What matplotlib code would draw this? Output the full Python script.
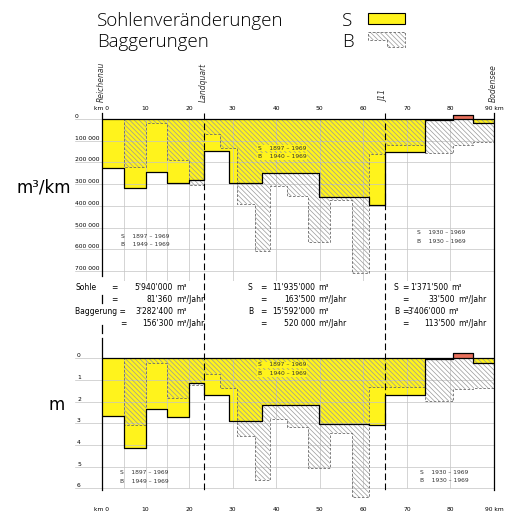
import numpy as np
import matplotlib.pyplot as plt
from matplotlib.patches import Rectangle, Polygon

plt.rcParams['font.family'] = 'DejaVu Sans'
plt.rcParams['hatch.linewidth'] = 0.5

# Sohlenveraenderungen S: reach edges in km, values per reach
s_edges = [0, 5, 10, 15, 20, 23.5, 29.1, 36.8, 49.8, 61.2, 65, 74.2, 80.5, 85.2, 90]
s_vol = [225000, 316000, 244000, 295000, 283000, 149000, 295000, 247000,
         358000, 396000, 150000, 3000, -20000, 20000]          # m3/km
s_depth = [2.64, 4.15, 2.34, 2.69, 1.15, 1.69, 2.87, 2.15,
           3.03, 3.07, 1.69, 0.02, -0.25, 0.23]                 # m

# Baggerungen B
b_edges = [0, 5, 10, 15, 20, 23.5, 27, 31, 35.2, 38.6, 42.5, 47.3, 52.3,
           57.3, 61.2, 65, 74.2, 80.5, 85.2, 90]
b_vol = [0, 221000, 17000, 190000, 303000, 68000, 134000, 390000, 608000,
         311000, 355000, 566000, 372000, 711000, 160000, 121000, 158000,
         121000, 106000]
b_depth = [0, 3.07, 0.23, 1.84, 1.23, 0.72, 1.38, 3.6, 5.6, 2.8, 3.15,
           5.07, 3.43, 6.4, 1.31, 1.31, 1.95, 1.43, 1.35]

km_ticks = [0, 10, 20, 30, 40, 50, 60, 70, 80, 90]
km_labels = ['km 0', '10', '20', '30', '40', '50', '60', '70', '80', '90 km']
vgrid = [5, 10, 15, 20, 30, 40, 50, 60, 70, 80]
vol_ticks = [0, 100000, 200000, 300000, 400000, 500000, 600000, 700000]
vol_labels = ['0', '100 000', '200 000', '300 000', '400 000', '500 000', '600 000', '700 000']
m_ticks = [0, 1, 2, 3, 4, 5, 6]

yellow = '#fff31c'
red = '#e8705c'
hatch_col = '#999999'
grid_col = '#c4c4c4'

W, H = 524, 522
fig = plt.figure(figsize=(W / 100, H / 100), dpi=100)

def kx(km):
    return 102 + 4.356 * km

def axes_px(top, bottom):
    return [102 / W, 1 - bottom / H, 392 / W, (bottom - top) / H]

ax1 = fig.add_axes(axes_px(111.4, 280.7), facecolor='none')
ax2 = fig.add_axes(axes_px(350.7, 501.5), facecolor='none')


def draw_panel(ax, s_vals, b_vals, yticks, grid_bottom):
    xs = np.array(s_edges)
    ys = np.append(s_vals, s_vals[-1])
    ax.fill_between(xs, 0, np.maximum(ys, 0), step='post', color=yellow, lw=0, zorder=2)
    ax.fill_between(xs, 0, np.minimum(ys, 0), step='post', color=red, lw=0, zorder=2)
    xb = np.array(b_edges)
    yb = np.append(b_vals, b_vals[-1])
    ax.fill_between(xb, 0, yb, step='post', facecolor='none', edgecolor=hatch_col,
                    hatch='\\\\\\\\\\\\\\', lw=0, zorder=3)
    ax.step(xb, yb, where='post', color='#6a6a6a', lw=0.6, ls=(0, (3, 2)), zorder=4)
    ax.step(xs, ys, where='post', color='k', lw=0.9, zorder=5)
    ax.plot([0, 90], [0, 0], color='k', lw=0.9, zorder=5)
    for v in yticks:
        ax.plot([-6.2, 90], [v, v], color=grid_col, lw=0.5, zorder=2.5, clip_on=False)
    ax.vlines(vgrid, 0, grid_bottom, color=grid_col, lw=0.5, zorder=2.5)
    ax.set_xlim(0, 90)
    for sp in ax.spines.values():
        sp.set_visible(False)


draw_panel(ax1, s_vol, b_vol, vol_ticks, 745000)
ax1.set_ylim(745000, -35000)
ax1.set_yticks(vol_ticks, vol_labels)
ax1.xaxis.tick_top()
ax1.set_xticks(km_ticks, km_labels)
ax1.tick_params(axis='x', length=0, labelsize=4.3, pad=0.5)
ax1.tick_params(axis='y', length=0, labelsize=4.3, pad=19.4)
plt.setp(ax1.get_yticklabels(), ha='left', va='bottom')

draw_panel(ax2, s_depth, b_depth, m_ticks, 6)
ax2.set_ylim(6.6, -0.35)
ax2.set_yticks(m_ticks, [str(v) for v in m_ticks])
ax2.set_xticks(km_ticks, km_labels)
ax2.tick_params(axis='x', length=0, labelsize=4.3, pad=4)
ax2.tick_params(axis='y', length=0, labelsize=4.3, pad=18)
plt.setp(ax2.get_yticklabels(), ha='left', va='bottom')

# overlay in pixel coordinates for texts and separators
ov = fig.add_axes([0, 0, 1, 1], facecolor='none', zorder=10)
ov.set_xlim(0, W)
ov.set_ylim(H, 0)
ov.axis('off')

ov.plot([kx(0)] * 2, [113, 276], color='k', lw=0.9)
ov.plot([kx(0)] * 2, [295, 303], color='k', lw=0.9)
ov.plot([kx(0)] * 2, [325, 333], color='k', lw=0.9)
ov.plot([kx(0)] * 2, [338, 490], color='k', lw=0.9)
ov.plot([kx(90)] * 2, [113, 490], color='k', lw=0.9)
for km in [23.5, 65]:
    ov.plot([kx(km)] * 2, [113, 490], color='k', lw=0.8, ls=(0, (6, 3)))

# legend
tkw = dict(fontsize=13.5, va='baseline', family=['Open Sans', 'DejaVu Sans'],
           fontweight='light', color='black')
ov.text(97, 26, 'Sohlenveränderungen', **tkw)
ov.text(97, 47, 'Baggerungen', **tkw)
ov.text(342, 26, 'S', **tkw)
ov.text(342, 47, 'B', **tkw)
ov.add_patch(Rectangle((368, 13), 37, 11, facecolor=yellow, edgecolor='k', lw=0.8))
leg_b = [(368, 32), (405, 32), (405, 47), (387, 47), (387, 40), (368, 40)]
ov.add_patch(Polygon(leg_b, closed=True, facecolor='none', edgecolor=hatch_col,
                     hatch='\\\\\\\\\\\\\\', lw=0))
ov.add_patch(Polygon(leg_b, closed=True, fill=False, edgecolor='#6a6a6a', lw=0.6,
                     ls=(0, (3, 2))))

# place names
for name, km in [('Reichenau', 0), ('Landquart', 23.5), ('J11', 65), ('Bodensee', 90)]:
    ov.text(kx(km) - 1, 102, name, rotation=90, ha='center', va='bottom',
            style='italic', fontsize=5.5, color='#333333')

ov.text(16, 188, 'm³/km', fontsize=12, va='center')
ov.text(49, 405, 'm', fontsize=12, va='center')

# period notes
def period(x, y, s_txt, b_txt, bg=None):
    kw = dict(fontsize=4.3, va='center', color='#333333')
    if bg:
        kw['bbox'] = dict(facecolor=bg, edgecolor='none', pad=0.5)
    ov.text(x, y, 'S    ' + s_txt, **kw)
    ov.text(x, y + 8.5, 'B    ' + b_txt, **kw)

period(121, 236, '1897 – 1969', '1949 – 1969')
period(258, 148, '1897 – 1969', '1940 – 1969', yellow)
period(417, 233, '1930 – 1969', '1930 – 1969')
period(120, 473, '1897 – 1969', '1949 – 1969')
period(258, 365, '1897 – 1969', '1940 – 1969', yellow)
period(420, 472, '1930 – 1969', '1930 – 1969')

# summary text
rows = [288, 299.5, 312, 323.5]
fs = 5.5

def L(x, r, s):
    ov.text(x, rows[r], s, fontsize=fs, ha='left', va='center')

def R(x, r, s):
    ov.text(x, rows[r], s, fontsize=fs, ha='right', va='center')

L(75, 0, 'Sohle'); L(111, 0, '='); R(173, 0, "5'940'000"); L(176, 0, 'm³')
L(111, 1, '='); R(173, 1, "81'360"); L(176, 1, 'm³/Jahr')
L(75, 2, 'Baggerung ='); R(173, 2, "3'282'400"); L(176, 2, 'm³')
L(120, 3, '='); R(173, 3, "156'300"); L(176, 3, 'm³/Jahr')

L(248, 0, 'S'); L(260, 0, '='); R(315, 0, "11'935'000"); L(318, 0, 'm³')
L(260, 1, '='); R(315, 1, "163'500"); L(318, 1, 'm³/Jahr')
L(248, 2, 'B'); L(260, 2, '='); R(315, 2, "15'592'000"); L(318, 2, 'm³')
L(260, 3, '='); R(315, 3, '520 000'); L(318, 3, 'm³/Jahr')

L(394, 0, 'S'); L(402, 0, '='); R(448, 0, "1'371'500"); L(451, 0, 'm³')
L(402, 1, '='); R(455, 1, "33'500"); L(458, 1, 'm³/Jahr')
L(394, 2, 'B'); L(402, 2, '='); R(446, 2, "3'406'000"); L(448, 2, 'm³')
L(402, 3, '='); R(455, 3, "113'500"); L(458, 3, 'm³/Jahr')

fig.savefig('out.png', dpi=100)
